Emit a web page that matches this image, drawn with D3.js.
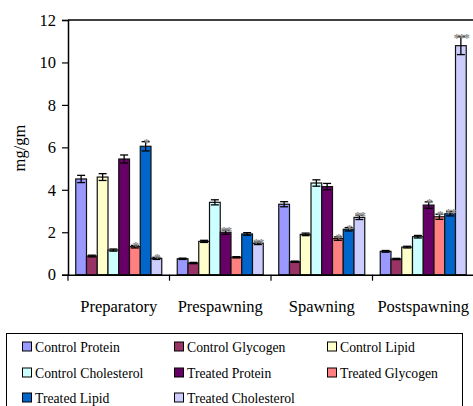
<!DOCTYPE html>
<html><head><meta charset="utf-8">
<script src="https://cdn.jsdelivr.net/npm/d3@7"></script>
<style>body{margin:0;background:#fff}svg{display:block}</style>
</head><body><svg id="c" width="473" height="406"></svg>
<script>
const categories = ["Preparatory","Prespawning","Spawning","Postspawning"];
const seriesNames = ["Control Protein","Control Glycogen","Control Lipid","Control Cholesterol","Treated Protein","Treated Glycogen","Treated Lipid","Treated Cholesterol"];
const seriesColors = ["#9999FF","#993366","#FFFFCC","#CCFFFF","#660066","#FF8080","#0066CC","#CCCCFF"];
// values per series, one per category
const controlProtein     = [4.51, 0.75, 3.32, 1.10];
const controlGlycogen    = [0.88, 0.55, 0.61, 0.74];
const controlLipid       = [4.60, 1.57, 1.90, 1.30];
const controlCholesterol = [1.16, 3.41, 4.32, 1.79];
const treatedProtein     = [5.45, 2.00, 4.15, 3.28];
const treatedGlycogen    = [1.32, 0.82, 1.70, 2.73];
const treatedLipid       = [6.05, 1.92, 2.14, 2.87];
const treatedCholesterol = [0.77, 1.48, 2.70, 10.79];
// error (+/-) per series
const errControlProtein     = [0.17, 0.03, 0.12, 0.04];
const errControlGlycogen    = [0.04, 0.03, 0.03, 0.03];
const errControlLipid       = [0.16, 0.05, 0.06, 0.04];
const errControlCholesterol = [0.05, 0.12, 0.15, 0.06];
const errTreatedProtein     = [0.19, 0.10, 0.15, 0.15];
const errTreatedGlycogen    = [0.06, 0.03, 0.08, 0.12];
const errTreatedLipid       = [0.22, 0.06, 0.08, 0.10];
const errTreatedCholesterol = [0.05, 0.06, 0.10, 0.42];
// significance marks
const sigTreatedProtein     = ["", "**", "", "*"];
const sigTreatedGlycogen    = ["*", "", "*", "*"];
const sigTreatedLipid       = ["*", "", "*", "**"];
const sigTreatedCholesterol = ["*", "**", "**", "***"];
const yTicks = [0,2,4,6,8,10,12];

const values = [controlProtein,controlGlycogen,controlLipid,controlCholesterol,treatedProtein,treatedGlycogen,treatedLipid,treatedCholesterol];
const errs = [errControlProtein,errControlGlycogen,errControlLipid,errControlCholesterol,errTreatedProtein,errTreatedGlycogen,errTreatedLipid,errTreatedCholesterol];
const sigs = [null,null,null,null,sigTreatedProtein,sigTreatedGlycogen,sigTreatedLipid,sigTreatedCholesterol];

const FONT = "'Liberation Serif'";
const svg = d3.select("#c");
const L = 68, R = 474, T = 20, B = 274.7;
const x0 = d3.scaleBand().domain(categories).range([L, R]).padding(0);
const gap = 7.75;
const x1 = d3.scaleBand().domain(seriesNames).range([gap, x0.bandwidth() - gap]).padding(0);
const y = d3.scaleLinear().domain([0, 12]).range([B, T]);

const data = [];
categories.forEach((c, ci) => seriesNames.forEach((s, si) => {
  data.push({c, s, si, v: values[si][ci], e: errs[si][ci], sig: sigs[si] ? sigs[si][ci] : ""});
}));

// top frame line
svg.append("line").attr("x1", L).attr("x2", 473).attr("y1", T).attr("y2", T).attr("stroke", "#000").attr("stroke-width", 1.5);

const g = svg.append("g");
g.selectAll("rect.bar").data(data).join("rect")
  .attr("x", d => x0(d.c) + x1(d.s))
  .attr("width", x1.bandwidth())
  .attr("y", d => y(d.v))
  .attr("height", d => y(0) - y(d.v))
  .attr("fill", d => seriesColors[d.si])
  .attr("stroke", "#111").attr("stroke-width", 1.2);

// error bars
const cx = d => x0(d.c) + x1(d.s) + x1.bandwidth()/2;
const eg = g.selectAll("g.err").data(data).join("g").attr("stroke", "#000").attr("stroke-width", 1.3);
eg.append("line").attr("x1", cx).attr("x2", cx)
  .attr("y1", d => y(d.v + d.e)).attr("y2", d => y(d.v - d.e));
eg.append("line").attr("x1", d => cx(d) - 4).attr("x2", d => cx(d) + 4)
  .attr("y1", d => y(d.v + d.e)).attr("y2", d => y(d.v + d.e));
eg.append("line").attr("x1", d => cx(d) - 4).attr("x2", d => cx(d) + 4)
  .attr("y1", d => y(d.v - d.e)).attr("y2", d => y(d.v - d.e));

// significance
g.selectAll("text.sig").data(data.filter(d => d.sig)).join("text")
  .attr("x", cx)
  .attr("y", d => y(d.v + d.e) + 5)
  .attr("text-anchor", "middle")
  .attr("fill", "#8c8c8c").attr("font-size", 13).attr("font-weight", "bold")
  .attr("letter-spacing", -1.5)
  .style("font-family", FONT)
  .text(d => d.sig);

// y axis
const ya = svg.append("g").attr("transform", `translate(${L},0)`)
  .call(d3.axisLeft(y).tickValues(yTicks).tickSize(6).tickPadding(6).tickFormat(d3.format("d")));
ya.attr("font-family", null);
ya.select(".domain").attr("stroke", "#000").attr("stroke-width", 1.5);
ya.selectAll(".tick line").attr("stroke", "#000").attr("stroke-width", 1.2);
ya.selectAll("text").attr("font-size", 16.5).attr("fill", "#000").style("font-family", FONT);

// x axis
const xa = svg.append("g").attr("transform", `translate(0,${B})`)
  .call(d3.axisBottom(x0).tickSize(0).tickPadding(26));
xa.attr("font-family", null);
xa.select(".domain").attr("stroke", "#000").attr("stroke-width", 1.5).attr("d", `M${L},0.5H473`);
xa.selectAll("text").attr("font-size", 16.5).attr("fill", "#000").style("font-family", FONT);
const bounds = categories.map(c => x0(c)).concat([x0(categories[categories.length-1]) + x0.bandwidth()]);
xa.selectAll("line.bt").data(bounds).join("line").attr("class", "bt")
  .attr("x1", d => d).attr("x2", d => d).attr("y1", 0).attr("y2", 6)
  .attr("stroke", "#000").attr("stroke-width", 1.2);

// y label
svg.append("text").attr("transform", "translate(25,148) rotate(-90)")
  .attr("text-anchor", "middle").attr("font-size", 16.5).style("font-family", FONT).text("mg/gm");

// legend
svg.append("rect").attr("x", 6.5).attr("y", 333.5).attr("width", 456).attr("height", 90)
  .attr("fill", "none").attr("stroke", "#000").attr("stroke-width", 1);
const colX = [22, 174, 327], rowY = [347, 373, 398];
const lg = svg.selectAll("g.leg").data(seriesNames).join("g")
  .attr("transform", (d, i) => `translate(${colX[i % 3]},${rowY[Math.floor(i / 3)]})`);
lg.append("rect").attr("x", 0.5).attr("y", -5).attr("width", 9).attr("height", 9)
  .attr("fill", (d, i) => seriesColors[i]).attr("stroke", "#000").attr("stroke-width", 1);
lg.append("text").attr("x", 13).attr("y", 5).attr("font-size", 13.7).style("font-family", FONT).text(d => d);
</script></body></html>
